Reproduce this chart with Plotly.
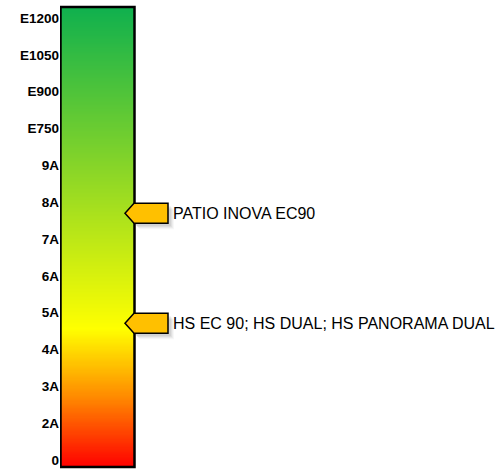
import numpy as np
import plotly.graph_objects as go

# ---- data ----
tick_labels = ["0", "2A", "3A", "4A", "5A", "6A", "7A", "8A", "9A",
               "E750", "E900", "E1050", "E1200"]
tick_positions = list(range(len(tick_labels)))
marker_values = [6.70, 3.71]
marker_texts = ["PATIO INOVA EC90", "HS EC 90; HS DUAL; HS PANORAMA DUAL"]

# ---- style ----
Y_MIN, Y_MAX = -0.19, 12.299
BAR_X0, BAR_X1 = 0.5, 74.5
FONT = "Liberation Sans, Arial, sans-serif"
colorscale = [[0.0, "#FF0000"], [0.15, "#FF8800"], [0.30, "#FFFF00"],
              [0.65, "#88D528"], [1.0, "#0FB04E"]]

edges = np.linspace(Y_MIN, Y_MAX, 401)
centers = (edges[:-1] + edges[1:]) / 2
z = centers.reshape(-1, 1)

fig = go.Figure()
fig.add_trace(go.Heatmap(
    x=[BAR_X0, BAR_X1], y=edges, z=z,
    colorscale=colorscale, zmin=Y_MIN, zmax=Y_MAX,
    showscale=False, hoverinfo="skip",
))

shapes = [dict(type="rect", xref="x", yref="paper", x0=BAR_X0, x1=BAR_X1,
               y0=0, y1=1, line=dict(color="black", width=2.5),
               fillcolor="rgba(0,0,0,0)")]

annotations = []
for v, t in zip(marker_values, marker_texts):
    # soft shadow
    for k, a in [(6, 0.03), (5, 0.04), (4, 0.05), (3, 0.06)]:
        shapes.append(dict(
            type="path", xref="x", yref="y", ysizemode="pixel", yanchor=v,
            path=f"M {65+k},{-k} L {74+k},{10-k} L {108+k},{10-k} L {108+k},{-10-k} L {74+k},{-10-k} Z",
            fillcolor=f"rgba(0,0,0,{a})", line=dict(width=0),
        ))
    shapes.append(dict(
        type="path", xref="x", yref="y", ysizemode="pixel", yanchor=v,
        path="M 65,0 L 74,10 L 108,10 L 108,-10 L 74,-10 Z",
        fillcolor="#FFC000", line=dict(color="black", width=1.5),
    ))
    annotations.append(dict(
        x=111, y=v, xref="x", yref="y", text=t, showarrow=False,
        xanchor="left", yanchor="middle",
        font=dict(family=FONT, size=16, color="black"),
    ))

fig.update_layout(
    width=499, height=469,
    margin=dict(l=60, r=0, t=7, b=2),
    paper_bgcolor="white", plot_bgcolor="white",
    showlegend=False,
    shapes=shapes, annotations=annotations,
    xaxis=dict(range=[0, 439], visible=False, fixedrange=True),
    yaxis=dict(range=[Y_MIN, Y_MAX], tickvals=tick_positions, ticktext=tick_labels,
               showgrid=False, zeroline=False, showline=False, ticks="",
               tickfont=dict(family=FONT, size=13.5, color="black", weight="bold"),
               fixedrange=True),
)

fig.write_html("out.html", config={"displayModeBar": False},
               post_script="document.body.style.margin='0';")
